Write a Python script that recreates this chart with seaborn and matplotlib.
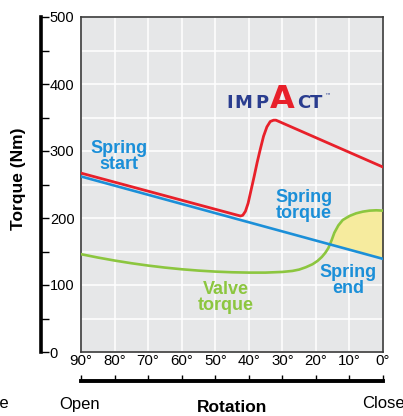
import numpy as np
import pandas as pd
import matplotlib
matplotlib.use("Agg")
import matplotlib.pyplot as plt
import seaborn as sns

# ---------------- data ----------------
spring_angle = [90, 0]
spring_torque = [262, 139]

actuator_angle = [90, 44, 42.5, 41.8, 41.0, 40.2, 39.3, 38.4, 37.5, 36.6, 35.6,
                  34.6, 33.6, 32.6, 31.9, 0]
actuator_torque = [267, 205, 203, 204, 210, 222, 242, 262, 283, 302, 322,
                   336, 344, 346, 346, 276]

valve_angle = [90, 85, 80, 75, 70, 65, 60, 55, 50, 45, 40, 35, 30, 27, 25, 23,
               21, 19.5, 18.2, 17.2, 16.3, 15.3, 14.5, 13.3, 12, 10, 8, 6, 4, 2, 0]
valve_torque = [146, 141, 136.5, 132.5, 129, 126, 123.5, 121.5, 120, 119, 118.5,
                118.5, 119.5, 121, 123, 126.5, 131, 136, 142, 148, 155, 167, 178,
                189, 197, 203, 207, 209.5, 211, 211.5, 211]

x_ticks = [90, 80, 70, 60, 50, 40, 30, 20, 10, 0]
x_tick_labels = [f"{v}°" for v in x_ticks]
y_ticks = [0, 100, 200, 300, 400, 500]
y_minor_ticks = [50, 150, 250, 350, 450]

RED = "#e8202a"
BLUE = "#1b8fd8"
GREEN = "#8cc63f"
NAVY = "#2a3d8f"

sns.set_theme(style="white")
plt.rcParams["font.family"] = ["Liberation Sans", "DejaVu Sans"]

W, H = 403, 416
fig = plt.figure(figsize=(W / 100, H / 100), dpi=100)
fig.patch.set_facecolor("white")


def fx(px):
    return px / W


def fy(py):
    return 1 - py / H


# ---------------- main plot area ----------------
ax = fig.add_axes([fx(81), fy(352), fx(383) - fx(81), fy(17) - fy(352)])
ax.set_facecolor("#e6e7e8")
ax.set_xlim(90, 0)
ax.set_ylim(0, 500)
ax.set_xticks(x_ticks)
ax.set_yticks(list(range(0, 501, 50)))
ax.grid(True, color="white", linewidth=1.1)
ax.set_axisbelow(True)
ax.tick_params(length=0, labelbottom=False, labelleft=False)
for s in ax.spines.values():
    s.set_color("#3a3a3a")
    s.set_linewidth(1.2)
    s.set_visible(True)

# yellow fill where valve torque exceeds spring torque
va = np.array(valve_angle, dtype=float)
vt = np.array(valve_torque, dtype=float)
st = np.interp(va, spring_angle[::-1], spring_torque[::-1])
ax.fill_between(va, vt, st, where=vt > st, interpolate=True,
                color="#f6eb9e", linewidth=0, zorder=1.5)

df_s = pd.DataFrame({"angle": spring_angle, "torque": spring_torque})
df_a = pd.DataFrame({"angle": actuator_angle, "torque": actuator_torque})
df_v = pd.DataFrame({"angle": valve_angle, "torque": valve_torque})

sns.lineplot(data=df_v, x="angle", y="torque", ax=ax, color=GREEN,
             linewidth=1.9, errorbar=None, zorder=3)
sns.lineplot(data=df_s, x="angle", y="torque", ax=ax, color=BLUE,
             linewidth=1.9, errorbar=None, zorder=4)
sns.lineplot(data=df_a, x="angle", y="torque", ax=ax, color=RED,
             linewidth=2.0, errorbar=None, zorder=5)
ax.set_xlim(90, 0)
ax.set_ylim(0, 500)
ax.set_xlabel("")
ax.set_ylabel("")

lab_kw = dict(ha="center", va="center", fontsize=13, fontweight="bold",
              linespacing=0.95, zorder=6)
ax.text(78.7, 292, "Spring\nstart", color=BLUE, **lab_kw)
ax.text(23.5, 219, "Spring\ntorque", color=BLUE, **lab_kw)
ax.text(10.3, 107, "Spring\nend", color=BLUE, **lab_kw)
ax.text(46.8, 81, "Valve\ntorque", color=GREEN, **lab_kw)

# IMPACT logo (letters as text)
logo = [("I", 230, NAVY, 13), ("M", 243.5, NAVY, 13), ("P", 261.5, NAVY, 13),
        ("A", 282.5, RED, 23), ("C", 303.5, NAVY, 13), ("T", 316.5, NAVY, 13)]
for ch, px, col, fs in logo:
    fig.text(fx(px), fy(108), ch, ha="center", va="baseline", color=col,
             fontsize=fs, fontweight="bold", family=["DejaVu Sans"])
fig.text(fx(324), fy(98), "™", ha="left", va="baseline", color=NAVY,
         fontsize=4.5, family=["DejaVu Sans"])

# ---------------- separate y axis bar ----------------
ay = fig.add_axes([fx(41.2), fy(352), 1e-4, fy(17) - fy(352)])
ay.patch.set_visible(False)
ay.set_ylim(0, 500)
ay.set_xticks([])
for s in ["top", "bottom", "right"]:
    ay.spines[s].set_visible(False)
ay.spines["left"].set_linewidth(2.6)
ay.spines["left"].set_color("black")
ay.yaxis.tick_right()
ay.set_yticks(y_ticks)
ay.set_yticklabels([str(v) for v in y_ticks])
ay.set_yticks(y_minor_ticks, minor=True)
ay.tick_params(axis="y", which="both", direction="out", length=5.6, width=1.0,
               color="black", pad=0.6, labelsize=10.5, labelcolor="black")
ay.grid(False)

# ---------------- separate x axis bar ----------------
axb = fig.add_axes([fx(81), fy(381), fx(383) - fx(81), 1e-4])
axb.patch.set_visible(False)
axb.set_xlim(90, 0)
axb.set_yticks([])
for s in ["top", "left", "right"]:
    axb.spines[s].set_visible(False)
axb.spines["bottom"].set_linewidth(2.8)
axb.spines["bottom"].set_color("black")
axb.xaxis.tick_top()
axb.set_xticks(x_ticks)
axb.set_xticklabels(x_tick_labels)
axb.tick_params(axis="x", direction="out", length=4.5, width=1.0, color="black",
                pad=5.0, labelsize=10.8, labelcolor="black")
axb.grid(False)

# ---------------- texts ----------------
fig.text(fx(19), fy(179), "Torque (Nm)", rotation=90, ha="center", va="center",
         fontsize=12.5, fontweight="bold", color="black")
fig.text(fx(232), fy(408), "Rotation", ha="center", va="center",
         fontsize=12.5, fontweight="bold", color="black")
fig.text(fx(59), fy(404), "Open", ha="left", va="center", fontsize=12, color="black")
fig.text(fx(362), fy(404), "Close", ha="left", va="center", fontsize=12, color="black")
fig.text(fx(9), fy(404), "Close", ha="right", va="center", fontsize=12, color="black")
fig.text(fx(233), fy(0.5), "Ball valve", ha="center", va="baseline", fontsize=20,
         fontweight="bold", color="#8a8a8a")

fig.savefig("out.png", dpi=100)
